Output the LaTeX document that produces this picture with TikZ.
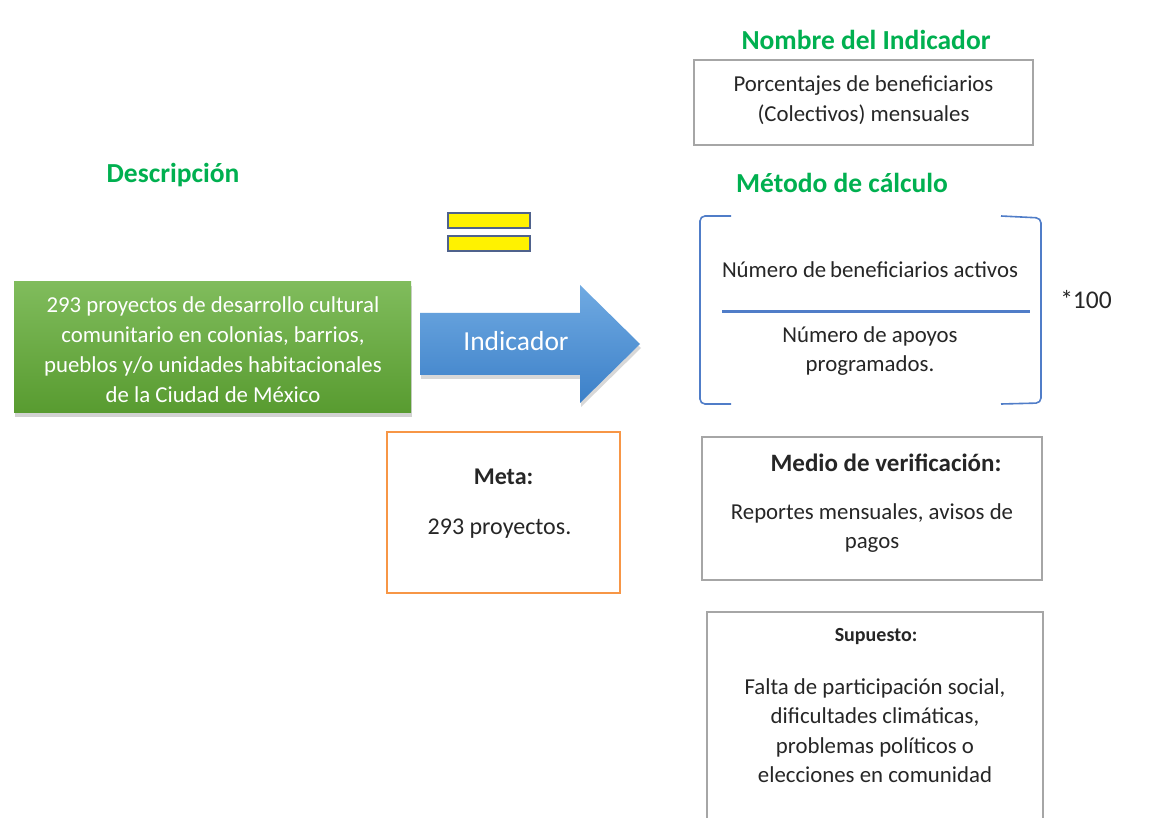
\documentclass[tikz,border=0pt]{standalone}
\usepackage{fontspec}
\setmainfont{Carlito}
\usetikzlibrary{shadows}
\definecolor{ttlgreen}{RGB}{0,176,80}
\definecolor{txt}{RGB}{38,38,38}
\definecolor{boxgray}{RGB}{166,166,166}
\definecolor{brblue}{RGB}{80,125,200}
\definecolor{orng}{RGB}{247,150,70}
\definecolor{gtop}{RGB}{128,188,92}
\definecolor{gbot}{RGB}{88,155,48}
\definecolor{atop}{RGB}{112,170,226}
\definecolor{abot}{RGB}{60,128,200}
\definecolor{ybord}{RGB}{79,98,140}
\tikzset{
  title/.style={font=\fontsize{27.5}{32}\selectfont\bfseries, text=ttlgreen, inner sep=0pt},
  body/.style={font=\fontsize{22.8}{29.5}\selectfont, text=txt, align=center, inner sep=0pt},
  bodyb/.style={font=\fontsize{25}{29.5}\selectfont\bfseries, text=txt, align=center, inner sep=0pt},
  graybox/.style={draw=boxgray, line width=1.5pt, inner sep=0pt},
  bar/.style={draw=ybord, fill=yellow, line width=1.6pt, inner sep=0pt, minimum width=82, minimum height=15},
  bracket/.style={draw=brblue, line width=1.6pt, rounded corners=5pt},
}
\begin{document}
\begin{tikzpicture}[x=1pt,y=-1pt]
\useasboundingbox[fill=white] (0,0) rectangle (1160,818);

% titles
\node[title] (tnombre) at (866,40) {Nombre del Indicador};
\node[title] (tmetodo) at (842,183) {Método de cálculo};
\node[title] (tdesc) at (173,175) {Descripción};

% description box
\node[drop shadow={opacity=0.35, shadow xshift=1pt, shadow yshift=-4pt},
      top color=gtop, bottom color=gbot, draw=none,
      minimum width=397, minimum height=131, inner sep=0pt] (desc) at (212.5,347.5) {};
\node[font=\fontsize{22.8}{30}\selectfont, text=white, align=center, inner sep=0pt] (desctxt) at (213,350)
  {293 proyectos de desarrollo cultural\\comunitario en colonias, barrios,\\pueblos y/o unidades habitacionales\\de la Ciudad de México};

% arrow
\shade[top color=atop, bottom color=abot, drop shadow={opacity=0.3, shadow xshift=1pt, shadow yshift=-4pt}]
  (420,313) -- (580,313) -- (580,285) -- (640,344) -- (580,403) -- (580,375) -- (420,375) -- cycle;
\node[font=\fontsize{27.5}{32}\selectfont, text=white, inner sep=0pt] (ind) at (516,341) {Indicador};

% equals bars
\node[bar] (bar1) at (489,220.5) {};
\node[bar] (bar2) at (489,243.5) {};

% nombre box
\node[graybox, minimum width=339, minimum height=85] (nombre) at (863.5,102.5) {};
\node[body] (nombretxt) at (863.5,100) {Porcentajes de beneficiarios\\(Colectivos) mensuales};

% metodo bracket
\coordinate (bl1) at (731,216);
\coordinate (bl2) at (700,216);
\coordinate (bl3) at (700,404);
\coordinate (bl4) at (731,404);
\draw[bracket] (bl1) -- (bl2) -- (bl3) -- (bl4);
\coordinate (br1) at (1001,216);
\coordinate (br2) at (1041,218);
\coordinate (br3) at (1041,403);
\coordinate (br4) at (1001,404);
\draw[bracket] (br1) -- (br2) -- (br3) -- (br4);
\coordinate (fl) at (722,312);
\coordinate (fr) at (1030,312);
\draw[draw=brblue, line width=3pt] (fl) -- (fr);
\node[body] (num) at (870,270) {Número de\,beneficiarios activos};
\node[body] (den) at (870,351) {Número de apoyos\\programados.};
\node[font=\fontsize{25.5}{30}\selectfont, text=txt, inner sep=0pt] (cien) at (1086,300) {*100};

% meta box
\node[draw=orng, line width=1.8pt, minimum width=233, minimum height=161, inner sep=0pt] (meta) at (503.5,512.5) {};
\node[font=\fontsize{24}{29}\selectfont\bfseries, text=txt, inner sep=0pt] (metat) at (503.5,477) {Meta:};
\node[font=\fontsize{24}{29}\selectfont, text=txt, inner sep=0pt] (metav) at (499.5,529) {293 proyectos.};

% medio box
\node[graybox, minimum width=340, minimum height=143] (medio) at (872,508.5) {};
\node[bodyb] (mediot) at (886,463) {Medio de verificación:};
\node[body] (mediov) at (872,528) {Reportes mensuales, avisos de\\pagos};

% supuesto box (cut off at bottom)
\coordinate (s1) at (707,820);
\coordinate (s2) at (707,612);
\coordinate (s3) at (1043,612);
\coordinate (s4) at (1043,820);
\draw[draw=boxgray, line width=1.5pt] (s1) -- (s2) -- (s3) -- (s4);
\node[font=\fontsize{20}{24}\selectfont\bfseries, text=txt, inner sep=0pt] (supt) at (876,637) {Supuesto:};
\node[body] (supv) at (875,730.5) {Falta de participación social,\\dificultades climáticas,\\problemas políticos o\\elecciones en comunidad};
\end{tikzpicture}
\end{document}
